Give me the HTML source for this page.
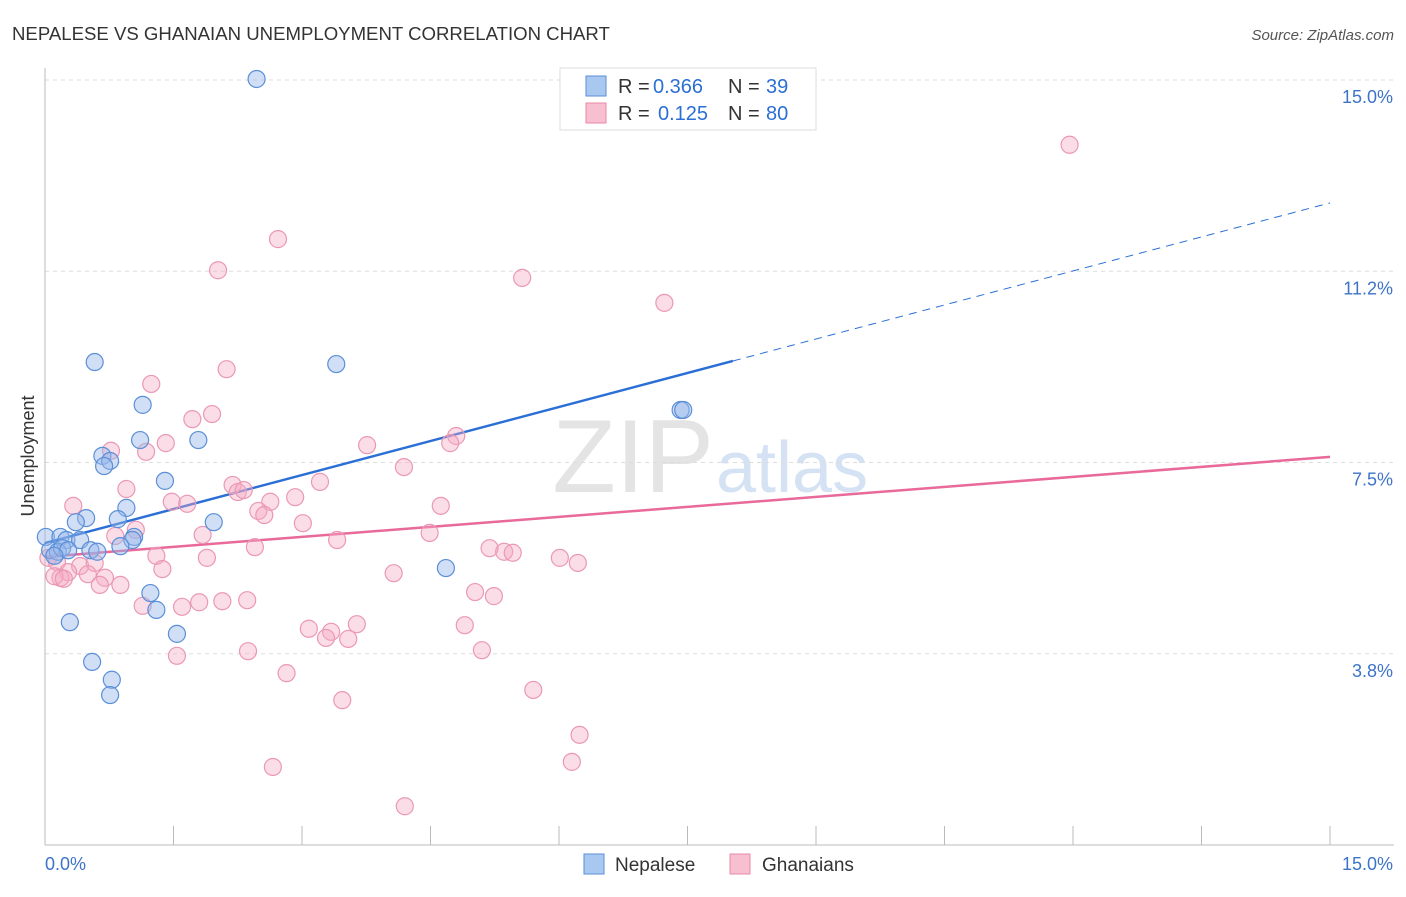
<!DOCTYPE html>
<html><head><meta charset="utf-8">
<style>
body{margin:0;background:#fff;font-family:"Liberation Sans",sans-serif;}
svg text{font-family:"Liberation Sans",sans-serif;}
</style></head>
<body>
<svg id="chart" width="1406" height="892">
<text x="12" y="40" font-size="18.6" fill="#333">NEPALESE VS GHANAIAN UNEMPLOYMENT CORRELATION CHART</text>
<text x="1394" y="40" font-size="15" fill="#555" font-style="italic" text-anchor="end">Source: ZipAtlas.com</text>
<text x="714" y="492" font-size="104" fill="#e4e4e4" text-anchor="end" font-family="Liberation Serif">ZIP</text>
<text x="716" y="492" font-size="72" fill="#d4e2f4">atlas</text>
<text transform="translate(34,456) rotate(-90)" font-size="18" fill="#333" text-anchor="middle">Unemployment</text>
<g id="grid"></g><g id="axes"></g><g id="lines"></g><g id="pts"></g>
<g>
<rect x="560" y="68" width="256" height="62" fill="#fff" stroke="#ddd"/>
<rect x="586" y="76" width="20" height="20" fill="#a9c8f0" stroke="#5b8fd8"/>
<rect x="586" y="103" width="20" height="20" fill="#f7bfd0" stroke="#e88aa8"/>
<g font-size="20">
<text x="618" y="93" fill="#333">R =</text><text x="653" y="93" fill="#2b6fd6">0.366</text>
<text x="728" y="93" fill="#333">N =</text><text x="766" y="93" fill="#2b6fd6">39</text></g>
<g font-size="20">
<text x="618" y="120" fill="#333">R =</text><text x="658" y="120" fill="#2b6fd6">0.125</text>
<text x="728" y="120" fill="#333">N =</text><text x="766" y="120" fill="#2b6fd6">80</text></g>
</g>
<g>
<rect x="584" y="854" width="20" height="20" fill="#a9c8f0" stroke="#5b8fd8"/>
<text x="615" y="871" font-size="19" fill="#333">Nepalese</text>
<rect x="730" y="854" width="20" height="20" fill="#f7bfd0" stroke="#e88aa8"/>
<text x="762" y="871" font-size="19" fill="#333">Ghanaians</text>
</g>
</svg>
<script>
const nepX=[2.47,0.58,3.40,1.14,7.42,7.45,1.11,1.79,0.67,0.76,0.69,1.40,0.95,0.48,0.85,0.36,1.97,0.01,0.18,0.25,0.41,1.04,1.02,0.06,0.15,0.20,0.27,0.53,0.61,0.88,0.11,4.68,1.23,1.30,0.29,1.54,0.55,0.78,0.76];
const nepY=[15.02,9.47,9.43,8.63,8.53,8.53,7.94,7.94,7.63,7.53,7.43,7.14,6.61,6.41,6.39,6.33,6.33,6.04,6.04,5.98,5.98,6.04,5.98,5.78,5.75,5.82,5.78,5.78,5.75,5.86,5.67,5.43,4.94,4.61,4.37,4.14,3.59,3.24,2.94];
const ghaX=[11.96,2.72,2.02,5.57,7.23,2.12,1.24,1.72,1.95,4.80,3.76,4.73,0.77,1.41,1.18,4.19,3.21,2.19,2.25,2.32,0.95,0.33,1.48,1.66,2.63,2.92,2.49,2.56,4.62,3.01,1.06,0.82,1.84,4.49,3.41,2.45,5.19,5.36,5.46,6.01,6.22,1.89,1.30,0.04,0.14,0.41,0.58,1.37,4.07,0.27,0.50,0.70,0.18,0.11,0.22,0.64,0.88,5.02,5.24,2.07,1.80,2.36,1.60,1.14,3.08,3.34,3.28,3.64,4.90,3.54,2.37,1.54,5.10,2.82,5.70,3.47,6.24,2.66,6.15,4.20];
const ghaY=[13.73,11.88,11.27,11.12,10.63,9.33,9.04,8.35,8.45,8.02,7.84,7.88,7.73,7.88,7.71,7.41,7.12,7.06,6.92,6.96,6.98,6.65,6.73,6.69,6.73,6.82,6.55,6.47,6.65,6.31,6.18,6.06,6.08,6.12,5.98,5.84,5.82,5.75,5.73,5.63,5.53,5.63,5.67,5.63,5.55,5.47,5.53,5.41,5.33,5.35,5.31,5.24,5.24,5.27,5.22,5.10,5.10,4.96,4.88,4.78,4.76,4.80,4.67,4.69,4.24,4.18,4.06,4.33,4.31,4.04,3.80,3.71,3.82,3.37,3.04,2.84,2.16,1.53,1.63,0.76];
const yTicks=[3.75,7.5,11.25,15];
const yTickLabels=["3.8%","7.5%","11.2%","15.0%"];
const nepLine=[5.92,12.59];
const ghaLine=[5.65,7.61];
const nepSolidEnd=8.03;
const NS="http://www.w3.org/2000/svg";
const X=v=>45+v*(1285/15), Y=v=>845-v*51;
function mk(t,a,p){const e=document.createElementNS(NS,t);for(const k in a)e.setAttribute(k,a[k]);document.getElementById(p).appendChild(e);return e;}
yTicks.forEach((t,i)=>{
 const g=mk('line',{x1:45,x2:1394,y1:Y(t),y2:Y(t),stroke:'#ddd','stroke-dasharray':'4,4'},'grid');
 
 
 const l=mk('text',{x:1393,y:Y(t)+23,'font-size':18,fill:'#3d74c8','text-anchor':'end'},'grid');l.textContent=yTickLabels[i];
 
 
});
const ax=mk('line',{x1:45,x2:45,y1:68,y2:845,stroke:'#bbb'},'axes');


const bx=mk('line',{x1:45,x2:1394,y1:845,y2:845,stroke:'#bbb'},'axes');


for(let i=0;i<=10;i++){const t=mk('line',{x1:X(i*1.5),x2:X(i*1.5),y1:826,y2:845,stroke:'#bbb'},'axes');
 
 }
const x0=mk('text',{x:45,y:870,'font-size':18,fill:'#3d74c8'},'axes');x0.textContent='0.0%';


const x1=mk('text',{x:1393,y:870,'font-size':18,fill:'#3d74c8','text-anchor':'end'},'axes');x1.textContent='15.0%';


const ly=x=>nepLine[0]+(nepLine[1]-nepLine[0])*x/15;
const l1=mk('line',{x1:X(0),y1:Y(nepLine[0]),x2:X(nepSolidEnd),y2:Y(ly(nepSolidEnd)),stroke:'#2b6fd6','stroke-width':2.5},'lines');


const l2=mk('line',{x1:X(nepSolidEnd),y1:Y(ly(nepSolidEnd)),x2:X(15),y2:Y(nepLine[1]),stroke:'#2b6fd6','stroke-width':1,'stroke-dasharray':'8,6'},'lines');


const l3=mk('line',{x1:X(0),y1:Y(ghaLine[0]),x2:X(15),y2:Y(ghaLine[1]),stroke:'#e8699a','stroke-width':2.5},'lines');


ghaX.forEach((v,i)=>{const c=mk('circle',{cx:X(v),cy:Y(ghaY[i]),r:8.5,fill:'rgba(244,170,195,0.4)',stroke:'#eb98b4','stroke-width':1.2},'pts');
 
 });
nepX.forEach((v,i)=>{const c=mk('circle',{cx:X(v),cy:Y(nepY[i]),r:8.5,fill:'rgba(150,185,235,0.45)',stroke:'#5b8fd8','stroke-width':1.2},'pts');
 
 });
</script>
</body></html>
